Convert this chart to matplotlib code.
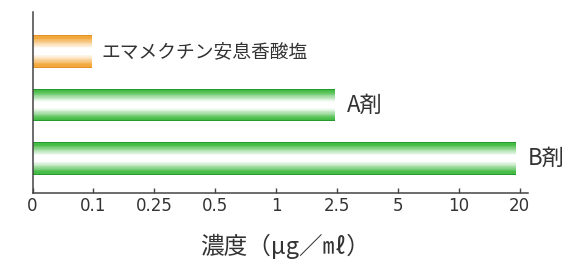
import numpy as np
import matplotlib
matplotlib.use("Agg")
import matplotlib.pyplot as plt

plt.rcParams['font.family'] = ['Noto Sans CJK JP', 'DejaVu Sans']

# ---- data ----
tick_values = [0, 0.1, 0.25, 0.5, 1, 2.5, 5, 10, 20]
tick_labels = ["0", "0.1", "0.25", "0.5", "1", "2.5", "5", "10", "20"]
categories = ["エマメクチン安息香酸塩", "A剤", "B剤"]
values = [0.098, 2.45, 19.4]
label_sizes = [13.5, 16, 16]
bar_colors = ["orange", "green", "green"]

TV = np.array(tick_values, float)
IDX = np.arange(len(TV), dtype=float)


def fwd(x):
    x = np.asarray(x, float)
    y = np.interp(x, TV, IDX)
    y = np.where(x > TV[-1], IDX[-1] + (x - TV[-1]) / (TV[-1] - TV[-2]), y)
    y = np.where(x < 0, x / (TV[1] - TV[0]), y)
    return y


def inv(y):
    y = np.asarray(y, float)
    x = np.interp(y, IDX, TV)
    x = np.where(y > IDX[-1], TV[-1] + (y - IDX[-1]) * (TV[-1] - TV[-2]), x)
    x = np.where(y < 0, y * (TV[1] - TV[0]), x)
    return x


palettes = {
    "green": dict(base=np.array([70, 188, 70]) / 255, edge=np.array([36, 155, 44]) / 255),
    "orange": dict(base=np.array([242, 168, 60]) / 255, edge=np.array([226, 146, 36]) / 255),
}


def strip_color(t, pal):
    d = abs(t - 0.5)
    w = np.clip((d - 0.09) / 0.33, 0, 1) ** 1.1
    white = np.ones(3)
    c = white * (1 - w) + pal["base"] * w
    if d > 0.465:
        c = pal["edge"]
    return c


fig = plt.figure(figsize=(5.67, 2.6), dpi=100)
ax = fig.add_axes([32.5 / 567, 1 - 193 / 260, (528 - 32.5) / 567, (193 - 12) / 260])
ax.set_xscale('function', functions=(fwd, inv))

bar_h = 0.6
N = 40
axis_col = "#444444"
for i, (cat, v, col, fs) in enumerate(zip(categories, values, bar_colors, label_sizes)):
    pal = palettes[col]
    sh = bar_h / N
    for k in range(N):
        t = (k + 0.5) / N
        yc = i - bar_h / 2 + (k + 0.5) * sh
        ax.barh(yc, v, height=sh * 1.08, left=0, color=strip_color(t, pal),
                linewidth=0, antialiased=False)
    off = 6.5 if i == 0 else 8.5
    ax.annotate(cat, xy=(v, i), xytext=(off, 0), textcoords='offset points',
                ha='left', va='center', fontsize=fs, color="#333333",
                annotation_clip=False)

ax.set_xlim(0, 21.36)
ax.set_ylim(2.645, -0.738)
ax.set_xticks(tick_values)
ax.set_xticklabels(tick_labels)
ax.xaxis.set_minor_locator(matplotlib.ticker.NullLocator())
ax.set_yticks([])
ax.tick_params(axis='x', direction='in', length=3.8, width=1.0, color=axis_col,
               labelsize=12, labelcolor="#333333", pad=3,
               labelfontfamily='DejaVu Sans')
for s in ['top', 'right']:
    ax.spines[s].set_visible(False)
for s in ['left', 'bottom']:
    ax.spines[s].set_color(axis_col)
    ax.spines[s].set_linewidth(1.1)

fig.text(285 / 567, 1 - 246 / 260, "濃度（μg／㎖）", ha='center', va='center',
         fontsize=17, color="#333333")

fig.savefig("out.png", dpi=100)
